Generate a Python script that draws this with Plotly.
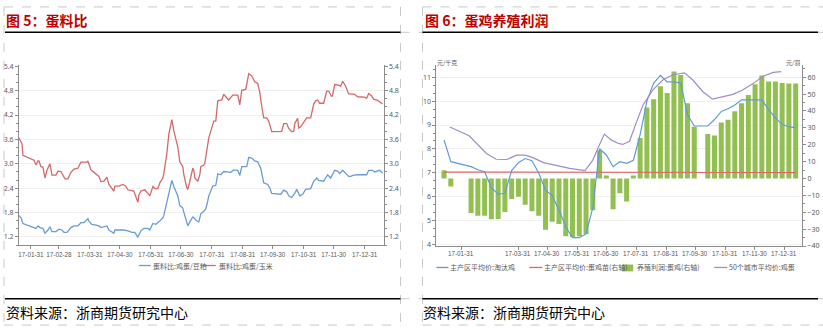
import plotly.graph_objects as go

W, H = 823, 331
def px(x): return x / W
def py(y): return 1 - y / H

# ---------------- Figure 5 data: egg/feed ratios ----------------
soy_dates = ["2017-01-19","2017-01-21","2017-01-23","2017-01-28","2017-02-03","2017-02-05","2017-02-07","2017-02-09","2017-02-12","2017-02-14",
             "2017-02-17","2017-02-19","2017-02-21","2017-02-25","2017-02-28","2017-03-03","2017-03-05","2017-03-08","2017-03-12","2017-03-15",
             "2017-03-19","2017-03-22","2017-03-25","2017-03-29","2017-03-30","2017-04-02","2017-04-06","2017-04-09","2017-04-11","2017-04-14",
             "2017-04-17","2017-04-19","2017-04-24","2017-04-25","2017-05-01","2017-05-04","2017-05-08","2017-05-12","2017-05-15","2017-05-18",
             "2017-05-21","2017-05-24","2017-05-28","2017-05-30","2017-06-02","2017-06-05","2017-06-08","2017-06-12","2017-06-13","2017-06-16",
             "2017-06-18","2017-06-21","2017-06-23","2017-06-27","2017-06-29","2017-07-02","2017-07-03","2017-07-06","2017-07-07","2017-07-09",
             "2017-07-12","2017-07-13","2017-07-16","2017-07-18","2017-07-20","2017-07-23","2017-07-25","2017-07-27","2017-07-28","2017-08-01",
             "2017-08-04","2017-08-06","2017-08-09","2017-08-12","2017-08-16","2017-08-19","2017-08-22","2017-08-26","2017-08-28","2017-08-30",
             "2017-09-04","2017-09-06","2017-09-09","2017-09-12","2017-09-15","2017-09-18","2017-09-21","2017-09-25","2017-09-27","2017-09-29",
             "2017-10-08","2017-10-11","2017-10-14","2017-10-16","2017-10-19","2017-10-22","2017-10-24","2017-10-27","2017-10-30","2017-11-02",
             "2017-11-07","2017-11-10","2017-11-13","2017-11-15","2017-11-20","2017-11-24","2017-11-27","2017-12-01","2017-12-04","2017-12-06",
             "2017-12-09","2017-12-12","2017-12-15","2017-12-17","2017-12-20","2017-12-25","2018-01-02","2018-01-04","2018-01-08","2018-01-10",
             "2018-01-15","2018-01-18"]
soy_ratio = [1.73,1.67,1.53,1.49,1.43,1.41,1.47,1.43,1.41,1.29,
             1.37,1.45,1.33,1.33,1.39,1.37,1.31,1.31,1.43,1.47,
             1.47,1.55,1.55,1.65,1.59,1.51,1.49,1.47,1.43,1.45,
             1.47,1.37,1.29,1.37,1.37,1.37,1.35,1.31,1.31,1.19,
             1.35,1.41,1.41,1.37,1.53,1.51,1.57,1.67,1.73,2.05,
             2.29,2.59,2.44,2.21,1.97,1.91,1.81,1.53,1.47,1.57,
             1.69,1.67,1.59,1.57,1.77,1.83,1.89,2.09,2.21,2.45,
             2.47,2.75,2.73,2.81,2.79,2.79,2.85,2.84,2.71,2.93,
             2.93,3.16,3.14,3.07,3.05,2.89,2.53,2.49,2.41,2.27,
             2.25,2.35,2.31,2.21,2.17,2.27,2.37,2.21,2.25,2.37,
             2.39,2.57,2.65,2.59,2.57,2.73,2.65,2.84,2.82,2.76,
             2.84,2.77,2.69,2.69,2.72,2.73,2.73,2.84,2.84,2.80,
             2.84,2.77]

corn_dates = ["2017-01-19","2017-01-22","2017-01-23","2017-02-03","2017-02-05","2017-02-07","2017-02-08","2017-02-10","2017-02-12","2017-02-14",
              "2017-02-16","2017-02-19","2017-02-21","2017-02-25","2017-02-27","2017-03-02","2017-03-06","2017-03-09","2017-03-12","2017-03-15",
              "2017-03-19","2017-03-22","2017-03-28","2017-03-29","2017-04-01","2017-04-06","2017-04-09","2017-04-11","2017-04-14","2017-04-17",
              "2017-04-19","2017-04-24","2017-04-25","2017-04-29","2017-05-03","2017-05-06","2017-05-08","2017-05-14","2017-05-16","2017-05-18",
              "2017-05-19","2017-05-21","2017-05-25","2017-05-28","2017-05-30","2017-06-02","2017-06-04","2017-06-07","2017-06-09","2017-06-12",
              "2017-06-13","2017-06-16","2017-06-18","2017-06-21","2017-06-23","2017-06-27","2017-06-29","2017-07-02","2017-07-03","2017-07-06",
              "2017-07-07","2017-07-09","2017-07-12","2017-07-13","2017-07-14","2017-07-17","2017-07-19","2017-07-20","2017-07-23","2017-07-24",
              "2017-07-27","2017-07-28","2017-08-01","2017-08-02","2017-08-04","2017-08-06","2017-08-10","2017-08-12","2017-08-14","2017-08-17",
              "2017-08-21","2017-08-26","2017-08-28","2017-08-30","2017-09-03","2017-09-06","2017-09-09","2017-09-12","2017-09-15","2017-09-17",
              "2017-09-19","2017-09-21","2017-09-24","2017-09-26","2017-09-29","2017-10-03","2017-10-09","2017-10-11","2017-10-14","2017-10-16",
              "2017-10-19","2017-10-21","2017-10-22","2017-10-25","2017-10-26","2017-10-28","2017-10-31","2017-11-03","2017-11-07","2017-11-10",
              "2017-11-12","2017-11-14","2017-11-16","2017-11-20","2017-11-23","2017-11-25","2017-11-28","2017-11-29","2017-12-01","2017-12-04",
              "2017-12-07","2017-12-09","2017-12-12","2017-12-15","2017-12-17","2017-12-21","2017-12-24","2017-12-27","2017-12-31","2018-01-02",
              "2018-01-04","2018-01-07","2018-01-09","2018-01-13","2018-01-15","2018-01-18"]
corn_ratio = [3.64,3.49,3.21,3.09,2.97,3.07,3.07,2.93,2.92,2.65,
              2.84,3.00,2.72,2.72,2.82,2.81,2.63,2.63,2.79,2.87,
              2.89,3.04,3.04,3.07,2.85,2.76,2.69,2.56,2.57,2.67,
              2.49,2.33,2.45,2.45,2.49,2.45,2.36,2.33,2.21,2.05,
              2.23,2.33,2.36,2.28,2.21,2.44,2.39,2.39,2.53,2.65,
              2.76,3.25,3.73,4.09,3.81,3.41,3.05,2.93,2.73,2.41,
              2.37,2.57,2.89,2.85,2.65,2.57,2.73,2.93,2.97,3.01,
              3.49,3.64,3.97,4.05,4.05,4.55,4.57,4.71,4.65,4.57,
              4.69,4.69,4.45,4.81,4.83,5.22,5.16,5.02,4.98,4.77,
              4.41,4.13,4.13,4.05,3.79,3.79,3.80,3.99,3.99,3.87,
              3.79,3.80,3.99,4.12,3.88,3.91,4.01,4.13,4.13,4.47,
              4.55,4.57,4.49,4.49,4.79,4.79,4.65,4.69,4.95,4.94,
              4.91,5.03,4.91,4.72,4.72,4.71,4.65,4.65,4.64,4.61,
              4.73,4.67,4.59,4.56,4.53,4.47]

month_ends = ["2017-01-31","2017-02-28","2017-03-31","2017-04-30","2017-05-31","2017-06-30",
              "2017-07-31","2017-08-31","2017-09-30","2017-10-31","2017-11-30","2017-12-31"]
month_labels = ["17-01-31","17-02-28","17-03-31","17-04-30","17-05-31","17-06-30",
                "17-07-31","17-08-31","17-09-30","17-10-31","17-11-30","17-12-31"]
ratio_ticks = [1.2, 1.8, 2.4, 3.0, 3.6, 4.2, 4.8, 5.4]

# ---------------- Figure 6 data: layer farming profit ----------------
week_dates = ["2017-01-13","2017-01-20","2017-01-27","2017-02-03","2017-02-10","2017-02-17","2017-02-24","2017-03-03","2017-03-10","2017-03-17",
              "2017-03-24","2017-03-31","2017-04-07","2017-04-14","2017-04-21","2017-04-28","2017-05-05","2017-05-12","2017-05-19","2017-05-26",
              "2017-06-02","2017-06-09","2017-06-16","2017-06-23","2017-06-30","2017-07-07","2017-07-14","2017-07-21","2017-07-28","2017-08-04",
              "2017-08-11","2017-08-18","2017-08-25","2017-09-01","2017-09-08","2017-09-15","2017-09-22","2017-09-29","2017-10-06","2017-10-13",
              "2017-10-20","2017-10-27","2017-11-03","2017-11-10","2017-11-17","2017-11-24","2017-12-01","2017-12-08","2017-12-15","2017-12-22",
              "2017-12-29","2018-01-05","2018-01-12"]
profit = [4.8,-4.8,None,None,-20.4,-22.1,-22.1,-24.2,-24.0,-19.8,
          -12.1,-10.8,-15.6,-19.4,-22.1,-30.4,-25.6,-26.9,-34.2,-34.6,
          -34.2,-32.9,-18.8,16.7,1.7,-18.3,-8.7,-13.7,1.7,24.0,
          42.1,46.9,54.6,50.6,63.3,61.3,44.6,30.6,None,26.3,
          25.4,33.1,34.8,39.8,44.6,49.4,55.8,61.0,57.5,57.5,
          56.5,56.2,56.2]
culled_hen = [8.38,7.47,None,None,7.26,7.13,7.05,6.38,6.11,6.15,
              7.10,7.43,7.60,7.51,7.00,6.28,6.05,5.45,4.75,4.30,
              4.30,4.45,5.55,8.01,7.75,7.26,7.47,7.40,7.53,8.60,
              10.00,10.75,11.07,10.80,10.80,10.75,9.44,8.96,8.96,8.96,
              9.23,9.57,9.68,9.84,10.05,10.05,10.05,10.05,9.64,9.30,
              9.03,8.92,8.89]
chick_dates = ["2017-01-13","2017-03-31","2017-06-30","2017-09-29","2017-12-29","2018-01-12"]
chick_price = [3.8, 3.7, 3.6, 3.5, 3.5, 3.5]
egg_dates = ["2017-01-19","2017-02-08","2017-02-26","2017-03-08","2017-03-19","2017-03-29","2017-04-07","2017-04-15","2017-04-26","2017-05-10",
             "2017-05-23","2017-06-08","2017-06-16","2017-06-21","2017-06-28","2017-07-05","2017-07-12","2017-07-17","2017-07-24","2017-07-31",
             "2017-08-07","2017-08-17","2017-08-28","2017-09-07","2017-09-19","2017-09-28","2017-10-08","2017-10-18","2017-10-29","2017-11-08",
             "2017-11-18","2017-11-29","2017-12-09","2017-12-20","2017-12-28"]
egg_price = [8.92,8.55,7.81,7.57,7.56,7.74,7.74,7.64,7.43,7.29,
             7.19,7.10,7.53,8.01,8.62,8.38,8.24,8.19,8.32,9.10,
             9.84,10.46,10.90,11.10,11.18,10.86,10.39,10.08,10.18,10.28,
             10.46,10.73,11.04,11.20,11.23]
right_month_ends = ["2017-01-31","2017-03-31","2017-04-30","2017-05-31","2017-06-30","2017-07-31",
                    "2017-08-31","2017-09-30","2017-10-31","2017-11-30","2017-12-31"]
right_month_labels = ["17-01-31","17-03-31","17-04-30","17-05-31","17-06-30","17-07-31",
                      "17-08-31","17-09-30","17-10-31","17-11-30","17-12-31"]

# ---------------- styles ----------------
BLUE5, RED5 = "#6B9BD4", "#D4696A"
BLUE6, RED6, PURPLE6, GREEN6 = "#5E9BD8", "#E06666", "#9E8CCB", "#92C050"
AX = "#8C8C8C"
TXT = "#595959"
GRID = "#F0F0F0"
NUMFONT = dict(family="Noto Sans, DejaVu Sans, sans-serif", size=7, color=TXT)
XFONT = dict(family="Liberation Sans, Arial, sans-serif", size=6.3, color=TXT)
CJK = "Noto Sans CJK SC"

fig = go.Figure()
fig.add_trace(go.Scatter(x=soy_dates, y=soy_ratio, mode="lines", line=dict(color=BLUE5, width=1.3),
                         xaxis="x", yaxis="y", showlegend=False))
fig.add_trace(go.Scatter(x=corn_dates, y=corn_ratio, mode="lines", line=dict(color=RED5, width=1.3),
                         xaxis="x", yaxis="y2", showlegend=False))

DAY_MS = 86400000
fig.add_trace(go.Bar(x=week_dates, y=profit, marker=dict(color=GREEN6, line=dict(width=0)),
                     width=5.2 * DAY_MS, xaxis="x2", yaxis="y3", showlegend=False))
fig.add_trace(go.Scatter(x=chick_dates, y=chick_price, mode="lines", line=dict(color=RED6, width=1.2),
                         xaxis="x2", yaxis="y3", showlegend=False))
fig.add_trace(go.Scatter(x=week_dates, y=culled_hen, mode="lines", connectgaps=True,
                         line=dict(color=BLUE6, width=1.2), xaxis="x2", yaxis="y4", showlegend=False))
fig.add_trace(go.Scatter(x=egg_dates, y=egg_price, mode="lines", line=dict(color=PURPLE6, width=1.2),
                         xaxis="x2", yaxis="y4", showlegend=False))

xcommon = dict(type="date", showline=True, linecolor=AX, linewidth=1, ticks="outside", ticklen=3,
               tickcolor=AX, showgrid=False, zeroline=False, tickfont=XFONT, tickangle=0)
ycommon = dict(showline=True, linecolor=AX, linewidth=1, ticks="outside", ticklen=3, tickcolor=AX,
               zeroline=False, tickfont=NUMFONT)

fig.update_layout(
    width=W, height=H, margin=dict(l=0, r=0, t=0, b=0),
    paper_bgcolor="white", plot_bgcolor="rgba(0,0,0,0)", showlegend=False,
    xaxis=dict(domain=[px(18), px(383)], anchor="y", range=["2017-01-19", "2018-01-18 22:00"],
               tickvals=month_ends, ticktext=month_labels, **xcommon),
    yaxis=dict(domain=[py(247), py(63)], anchor="x", range=[1.0, 5.42], tickvals=ratio_ticks,
               tickformat=".1f", showgrid=True, gridcolor=GRID, side="left",
               minor=dict(dtick=0.2, tick0=1.2, ticks="outside", ticklen=2, tickcolor=AX), **ycommon),
    yaxis2=dict(overlaying="y", anchor="x", side="right", range=[1.0, 5.42], tickvals=ratio_ticks,
                tickformat=".1f", showgrid=False,
                minor=dict(dtick=0.2, tick0=1.2, ticks="outside", ticklen=2, tickcolor=AX), **ycommon),
    xaxis2=dict(domain=[px(436), px(802)], anchor="y3", range=["2017-01-05 04:00", "2018-01-18 14:00"],
                tickvals=right_month_ends, showticklabels=False, **xcommon),
    yaxis3=dict(domain=[py(248), py(62)], anchor="x2", side="right", range=[-40, 67.5],
                tick0=0, dtick=10, showgrid=False,
                minor=dict(dtick=5, ticks="outside", ticklen=2, tickcolor=AX), **ycommon),
    yaxis4=dict(overlaying="y3", anchor="x2", side="left", range=[3.947, 11.528],
                tick0=0, dtick=1, showgrid=True, gridcolor=GRID,
                minor=dict(dtick=1/3, tick0=0, ticks="outside", ticklen=2, tickcolor=AX), **ycommon),
)

shapes = []
DASH = dict(color="#C8C8C8", width=1, dash="dash")
def seg(x0, y0, x1, y1, line):
    shapes.append(dict(type="line", xref="paper", yref="paper", x0=px(x0), y0=py(y0),
                       x1=px(x1), y1=py(y1), line=line, layer="above"))
# dashed cell borders
seg(3, 3, 400, 3, DASH); seg(3, 3, 3, 329, DASH); seg(3, 329, 400, 329, DASH); seg(400, 3, 400, 329, DASH)
seg(400, 29, 422, 29, DASH); seg(400, 302, 422, 302, DASH)
seg(422, 3, 823, 3, DASH); seg(422, 3, 422, 329, DASH); seg(422, 329, 823, 329, DASH)
seg(818, 29, 823, 29, DASH); seg(818, 302, 823, 302, DASH)
# black rules
BLK = dict(color="black", width=1.6)
seg(4, 29, 400, 29, BLK); seg(4, 302, 400, 302, BLK)
seg(422, 29, 818, 29, BLK); seg(422, 302, 818, 302, BLK)
# legend samples
seg(138, 268, 150, 268, dict(color=BLUE5, width=1.3))
seg(202, 268, 215, 268, dict(color=RED5, width=1.3))
seg(436, 270, 448, 270, dict(color=BLUE6, width=1.3))
seg(529, 270, 542, 270, dict(color=RED6, width=1.3))
shapes.append(dict(type="rect", xref="paper", yref="paper", x0=px(622), x1=px(633), y0=py(274), y1=py(267),
                   fillcolor=GREEN6, line=dict(width=0)))
seg(714, 270, 727, 270, dict(color=PURPLE6, width=1.3))

ann = []
def text(x, y, s, size, color, xanchor="left", bold=False, family=CJK):
    ann.append(dict(xref="paper", yref="paper", x=px(x), y=py(y), text=f"<b>{s}</b>" if bold else s,
                    showarrow=False, xanchor=xanchor, yanchor="middle",
                    font=dict(family=family, size=size, color=color)))
text(3, 16, "图 5：蛋料比", 14, "#C00000", bold=True)
text(423, 16, "图 6：蛋鸡养殖利润", 14, "#C00000", bold=True)
text(3, 316, "资料来源：浙商期货研究中心", 14, "black")
text(421, 316, "资料来源：浙商期货研究中心", 14, "black")
text(150, 268, "蛋料比:鸡蛋/豆粕", 7, TXT)
text(216, 268, "蛋料比:鸡蛋/玉米", 7, TXT)
text(448, 270, "主产区平均价:淘汰鸡", 7, TXT)
text(542, 270, "主产区平均价:蛋鸡苗(右轴)", 7, TXT)
text(635, 270, "养殖利润:蛋鸡(右轴)", 7, TXT)
text(727, 270, "50个城市平均价:鸡蛋", 7, TXT)
text(435, 60, "元/千克", 6, TXT)
text(802, 60, "元/羽", 6, TXT, xanchor="right")

# right-chart date labels, placed on the x2 date scale
for d, lab in zip(right_month_ends, right_month_labels):
    ann.append(dict(xref="x2", yref="paper", x=d, y=py(256), text=lab, showarrow=False,
                    xanchor="center", yanchor="middle", font=XFONT))

fig.update_layout(shapes=shapes, annotations=ann)
fig.write_html("out.html")
